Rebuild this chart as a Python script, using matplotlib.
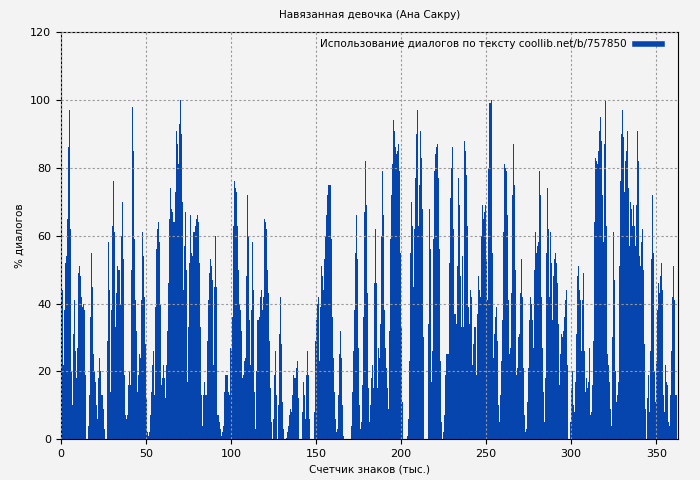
import numpy as np
import matplotlib
matplotlib.use("Agg")
import matplotlib.pyplot as plt

seg1 = [41,44,22,38,52,54,65,86,97,62,20,10,31,41,26,18,27,49,51,48,42,39,40,38,19,0,0,
        4,13,36,55,45,25,20,17,10,6,18,24,20,13,13,9,3,0,0,29,58,44,14,38,63,76,61,33,43,51,50,50,40,60,70,53,19,7,6,7,16,20,16,
        50,98,85,59,41,32,14,19,25,24,41,61,54,42,28,12,2,1,2,7,14,22,26,13,39,56,62,64,58,40,16,18,22,18,12,22,32,46,65,74,68,67,64,64,73,91,87,81,93,100,90,70,
        44,57,67,50,17,33,52,66,55,54,61,61,63,65,66,64,52,33,13,4,13,17,13,29,41,49,53,51,47,22,45,60,45,7,7,5,3,1,2,4,14,19,19,19,14,13,27,26,36,
        63,76,74,73,63,50,40,38,32,18,19,23,24,48,72,60,35,22,38,58,44,14,3,20,35,35,36,42,44,38,42,65,64,62,50,43,29]
seg2 = [15,5,0,6,19,26,13,0,10,31,42,28,11,3,0,0,0.5,2,4,7,9,8,13,19,18,18,21,23,12,0,0,0,8,17,13,6,19,26,19,6,0,0,0,0,
        8,29,35,40,42,23,39,51,48,44,53,60,66,72,75,75,75,59,36,24,14,6,2,3,13,25,32,24,10,1,0,0,0,0,0,0,0,
        4,14,26,38,55,66,53,27,10,3,5,16,36,67,82,69,43,15,5,10,18,22,15,46,62,46,15,27,24,34,60,79,66,38,27,21,15,9,32,59,72,81,94,91,86,84,85,87,79,55,33,11,0,0,0,0,
        1,6,23,55,70,63,45,62,77,90,97,63,75,91,83,68,30,0,0,0,0,34,68,56,17,26,59,79,84,86,87,77,56,23,5,0,2,7,19,25,25,52,71,80,86,62,37,37,34,51,77,69,48,33,54,33,
        88,85,78,63,39,34,44,42,22,28,33,33]
seg3 = [19,37,48,44,42,60,69,65,67,69,53,41,80,99,99,100,55,24,31,36,39,29,10,5,13,23,35,61,81,80,79,66,41,25,27,43,72,87,75,50,19,21,30,31,43,53,42,21,7,2,3,11,21,35,42,40,35,27,
        50,61,55,57,58,79,72,42,27,14,5,18,55,74,62,42,61,52,35,48,53,55,52,46,34,16,25,31,30,32,36,41,44,22,0,0,5,15,20,10,8,17,31,48,51,44,41,26,41,49,26,14,18,15,17,27,7,8,16,29,
        64,83,82,81,85,91,95,88,72,58,87,100,63,25,22,17,9,4,30,61,47,20,11,13,17,51,76,90,97,89,73,82,85,91,74,57,70,68,63,69,63,57,69,91,82,54,51,58,62,50,28,9,0,12,19,8,26,53,72,55,20,11,23,38,46,43,48,52,44,13,8,22,17,16,5,4,13,26,42,51,41,13,13]
dialog_pct = seg1 + seg2 + seg3

title = "Навязанная девочка (Ана Сакру)"
legend_label = "Использование диалогов по тексту coollib.net/b/757850"
xlabel = "Счетчик знаков (тыс.)"
ylabel = "% диалогов"
x_max = 362.5

n = len(dialog_pct)
step = x_max / n
x = np.arange(n) * step

fig = plt.figure(figsize=(7, 4.8), dpi=100, facecolor="#f3f3f3")
ax = fig.add_axes([0.087, 0.085, 0.882, 0.848], facecolor="#f3f3f3")
ax.bar(x, dialog_pct, width=step, align="edge", color="#0645ad", linewidth=0)
ax.plot([], [], color="#0645ad", linewidth=4, label=legend_label)
ax.set_xlim(0, 363)
ax.set_ylim(0, 120)
ax.set_xticks(range(0, 351, 50))
ax.set_yticks(range(0, 121, 20))
ax.grid(True, color="#999999", linestyle=(0, (2, 2)), linewidth=0.8)
ax.set_axisbelow(False)
ax.tick_params(labelsize=8)
ax.set_title(title, fontsize=7.5, pad=10)
ax.set_xlabel(xlabel, fontsize=7.5)
ax.set_ylabel(ylabel, fontsize=7.5)
ax.legend(loc="upper right", frameon=False, fontsize=7.5, handlelength=2.6,
          markerfirst=False, borderaxespad=0.3, bbox_to_anchor=(0.985, 1.0))
fig.savefig("out.png", dpi=100, facecolor=fig.get_facecolor())
